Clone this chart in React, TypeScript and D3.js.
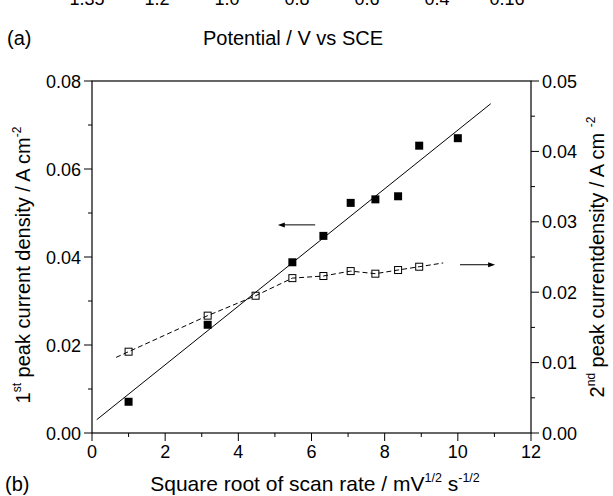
import React from "react";
import * as d3 from "d3";

// Square root of scan rate (mV^1/2 s^-1/2)
const sqrtRateFirst = [1, 3.162, 5.477, 6.325, 7.071, 7.746, 8.367, 8.944, 10];
// 1st peak current density (A cm^-2), left axis
const firstPeak = [0.0071, 0.0246, 0.0388, 0.0448, 0.0523, 0.0531, 0.0538, 0.0653, 0.067];

const sqrtRateSecond = [1, 3.162, 4.472, 5.477, 6.325, 7.071, 7.746, 8.367, 8.944];
// 2nd peak current density (A cm^-2), right axis
const secondPeak = [0.01155, 0.01667, 0.0195, 0.022, 0.0223, 0.023, 0.02263, 0.02315, 0.02362];

// extent of the drawn fit lines
const linearFitRange = [0.13, 10.9];
const dashedFitRange = [0.66, 9.6];

const xTicks = [0, 2, 4, 6, 8, 10, 12];
const leftTicks = [0, 0.02, 0.04, 0.06, 0.08];
const rightTicks = [0, 0.01, 0.02, 0.03, 0.04, 0.05];

// tick labels of the panel above, partly cut by the page edge
const panelATickLabels = ["1.35", "1.2", "1.0", "0.8", "0.6", "0.4", "0.16"];

const W = 613;
const H = 496;
const plot = { left: 92, right: 531, top: 81, bottom: 433 };
const FONT = "'Liberation Sans', Arial, Helvetica, sans-serif";

export default function App() {
  const x = d3.scaleLinear().domain([0, 12]).range([plot.left, plot.right]);
  const yL = d3.scaleLinear().domain([0, 0.08]).range([plot.bottom, plot.top]);
  const yR = d3.scaleLinear().domain([0, 0.05]).range([plot.bottom, plot.top]);

  // least-squares line through the 1st peak data
  const mx = d3.mean(sqrtRateFirst)!;
  const my = d3.mean(firstPeak)!;
  const sxy = d3.sum(sqrtRateFirst, (v, i) => (v - mx) * (firstPeak[i] - my));
  const sxx = d3.sum(sqrtRateFirst, (v) => (v - mx) * (v - mx));
  const slope = sxy / sxx;
  const intercept = my - slope * mx;
  const fitLine = d3.line<number>().x((v) => x(v)).y((v) => yL(intercept + slope * v));

  // dashed trace through the 2nd peak data, extended linearly at both ends
  const n = sqrtRateSecond.length;
  const extend = (i0: number, i1: number, xv: number) =>
    secondPeak[i0] +
    ((secondPeak[i1] - secondPeak[i0]) / (sqrtRateSecond[i1] - sqrtRateSecond[i0])) *
      (xv - sqrtRateSecond[i0]);
  const dashedPts: [number, number][] = [
    [dashedFitRange[0], extend(0, 1, dashedFitRange[0])],
    ...sqrtRateSecond.map((v, i) => [v, secondPeak[i]] as [number, number]),
    [dashedFitRange[1], extend(n - 2, n - 1, dashedFitRange[1])],
  ];
  const dashedLine = d3
    .line<[number, number]>()
    .x((d) => x(d[0]))
    .y((d) => yR(d[1]));

  const xMinor = d3.range(1, 12, 2);
  const leftMinor = d3.range(0.01, 0.08, 0.02);
  const rightMinor = d3.range(0.005, 0.05, 0.01);
  const majorLen = 8;
  const minorLen = 4;

  const panelA = d3.scalePoint<string>().domain(panelATickLabels).range([87, 507]);

  const markerSize = 8;

  return (
    <svg
      width={W}
      height={H}
      style={{ position: "absolute", left: 0, top: 0, background: "#fff" }}
      fontFamily={FONT}
    >
      <rect width={W} height={H} fill="#fff" />

      {/* remnants of panel (a) */}
      {panelATickLabels.map((t) => (
        <text key={t} x={panelA(t)} y={5} fontSize={18} textAnchor="middle" fill="#000">
          {t}
        </text>
      ))}
      <text x={7} y={45} fontSize={20} fill="#000">(a)</text>
      <text x={293} y={45} fontSize={20} textAnchor="middle" fill="#000">
        Potential / V vs SCE
      </text>

      {/* frame */}
      <rect
        x={plot.left}
        y={plot.top}
        width={plot.right - plot.left}
        height={plot.bottom - plot.top}
        fill="none"
        stroke="#000"
        strokeWidth={1.2}
      />

      {/* bottom axis */}
      {xTicks.map((t) => (
        <g key={"xt" + t}>
          <line x1={x(t)} x2={x(t)} y1={plot.bottom} y2={plot.bottom + majorLen} stroke="#000" />
          <text x={x(t)} y={plot.bottom + 25} fontSize={18} textAnchor="middle" fill="#000">
            {t}
          </text>
        </g>
      ))}
      {xMinor.map((t) => (
        <line key={"xm" + t} x1={x(t)} x2={x(t)} y1={plot.bottom} y2={plot.bottom + minorLen} stroke="#000" />
      ))}

      {/* left axis */}
      {leftTicks.map((t) => (
        <g key={"lt" + t}>
          <line x1={plot.left - majorLen} x2={plot.left} y1={yL(t)} y2={yL(t)} stroke="#000" />
          <text x={plot.left - 11} y={yL(t) + 6.5} fontSize={18} textAnchor="end" fill="#000">
            {d3.format(".2f")(t)}
          </text>
        </g>
      ))}
      {leftMinor.map((t) => (
        <line key={"lm" + t} x1={plot.left - minorLen} x2={plot.left} y1={yL(t)} y2={yL(t)} stroke="#000" />
      ))}

      {/* right axis */}
      {rightTicks.map((t) => (
        <g key={"rt" + t}>
          <line x1={plot.right} x2={plot.right + majorLen} y1={yR(t)} y2={yR(t)} stroke="#000" />
          <text x={plot.right + 11} y={yR(t) + 6.5} fontSize={18} textAnchor="start" fill="#000">
            {d3.format(".2f")(t)}
          </text>
        </g>
      ))}
      {rightMinor.map((t) => (
        <line key={"rm" + t} x1={plot.right} x2={plot.right + minorLen} y1={yR(t)} y2={yR(t)} stroke="#000" />
      ))}

      {/* fit lines */}
      <path d={fitLine(linearFitRange) ?? ""} fill="none" stroke="#000" strokeWidth={1} />
      <path d={dashedLine(dashedPts) ?? ""} fill="none" stroke="#000" strokeWidth={1} strokeDasharray="5,3" />

      {/* 1st peak markers */}
      {sqrtRateFirst.map((v, i) => (
        <rect
          key={"f" + i}
          x={x(v) - markerSize / 2}
          y={yL(firstPeak[i]) - markerSize / 2}
          width={markerSize}
          height={markerSize}
          fill="#000"
        />
      ))}
      {/* 2nd peak markers */}
      {sqrtRateSecond.map((v, i) => (
        <rect
          key={"s" + i}
          x={x(v) - markerSize / 2 + 0.5}
          y={yR(secondPeak[i]) - markerSize / 2 + 0.5}
          width={markerSize - 1}
          height={markerSize - 1}
          fill="none"
          stroke="#000"
          strokeWidth={1}
        />
      ))}

      {/* axis pointers */}
      <line x1={x(6.1)} x2={x(5.08) + 5} y1={yL(0.0473)} y2={yL(0.0473)} stroke="#000" />
      <path
        d={`M${x(5.08)},${yL(0.0473)} l7,-2.5 l0,5 z`}
        fill="#000"
      />
      <line x1={x(10.06)} x2={x(11.02) - 5} y1={yR(0.0239)} y2={yR(0.0239)} stroke="#000" />
      <path
        d={`M${x(11.02)},${yR(0.0239)} l-7,-2.5 l0,5 z`}
        fill="#000"
      />

      {/* axis titles */}
      <text
        transform={`translate(30,${(plot.top + plot.bottom) / 2 + 8}) rotate(-90)`}
        fontSize={20}
        textAnchor="middle"
        fill="#000"
      >
        1<tspan fontSize={12} dy={-9}>st</tspan>
        <tspan dy={9}> peak current density / A cm</tspan>
        <tspan fontSize={12} dy={-9}>-2</tspan>
      </text>
      <text
        transform={`translate(604,${(plot.top + plot.bottom) / 2}) rotate(-90)`}
        fontSize={20}
        textAnchor="middle"
        fill="#000"
      >
        2<tspan fontSize={12} dy={-9}>nd</tspan>
        <tspan dy={9}> peak currentdensity / A cm </tspan>
        <tspan fontSize={12} dy={-9}>-2</tspan>
      </text>
      <text x={315} y={491} fontSize={21} textAnchor="middle" fill="#000">
        Square root of scan rate / mV<tspan fontSize={12.5} dy={-9}>1/2</tspan>
        <tspan dy={9}> s</tspan>
        <tspan fontSize={12.5} dy={-9}>-1/2</tspan>
      </text>
      <text x={5} y={491} fontSize={20} fill="#000">(b)</text>
    </svg>
  );
}
